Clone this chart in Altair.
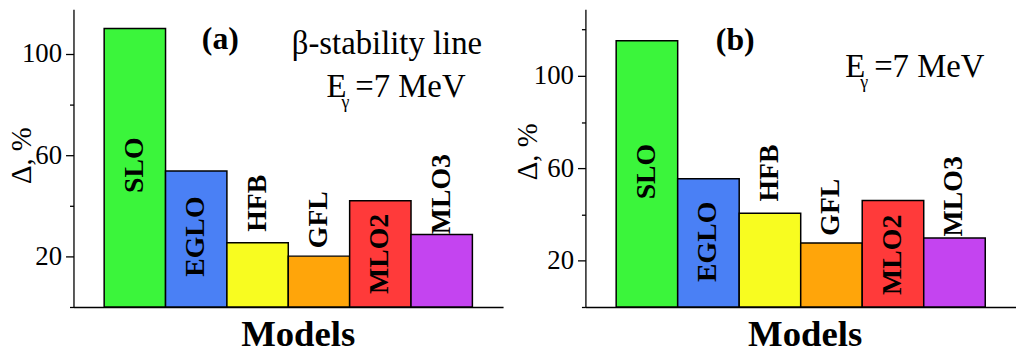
import altair as alt
import pandas as pd

# ---- data ----
models = ["SLO", "EGLO", "HFB", "GFL", "MLO2", "MLO3"]
delta_a = [110.0, 53.7, 25.4, 20.1, 42.0, 28.6]
delta_b = [115.2, 55.5, 40.6, 27.7, 46.1, 29.9]
# data-space centres of the rotated model labels
label_a = [56.0, 27.8, 41.0, 34.5, 21.0, 44.6]
label_b = [58.6, 28.2, 58.0, 43.2, 22.6, 47.9]
bar_colors = ["#3BF53B", "#4A80F5", "#F8FC20", "#FFA50A", "#FF3A3A", "#C444F0"]
y_ticks = [0, 20, 40, 60, 80, 100, 120]

FONT = "Liberation Serif"


def text_layer(txt, x, y, size, weight=400, align="left", baseline="alphabetic"):
    return alt.Chart(pd.DataFrame({"t": [txt]})).mark_text(
        font=FONT, fontSize=size, fontWeight=weight, align=align,
        baseline=baseline, color="black"
    ).encode(text="t:N", x=alt.value(x), y=alt.value(y))


def panel(values, labpos, ymax, width, height, title_x, ytitle_x, ytitle_y, annotations):
    df = pd.DataFrame({"model": models, "delta": values, "lab": labpos, "color": bar_colors})
    xenc = alt.X(
        "model:N", sort=models,
        scale=alt.Scale(paddingInner=0, paddingOuter=0.5),
        axis=alt.Axis(
            title="Models", labels=False, ticks=False, domainColor="black", domainWidth=1.3,
            titleFont=FONT, titleFontSize=37, titleFontWeight="bold", titleColor="black",
            titleX=title_x, titleY=39, titleAlign="center", titleBaseline="alphabetic",
        ),
    )
    yenc = alt.Y(
        "delta:Q",
        scale=alt.Scale(domain=[0, ymax], nice=False, zero=True),
        axis=alt.Axis(
            values=y_ticks,
            labelExpr="datum.value % 40 == 20 ? datum.label : ''",
            tickSize={"condition": {"test": "datum.value % 40 == 20", "value": 8}, "value": 4},
            labelPadding=4, labelFont=FONT, labelFontSize=27, labelColor="black",
            labelFontWeight=400,
            domainColor="black", tickColor="black", domainWidth=1.3, tickWidth=1.3, grid=False,
            title="Δ, %", titleFont=FONT, titleFontSize=29, titleFontWeight=400,
            titleColor="black", titleAngle=270, titleX=ytitle_x, titleY=ytitle_y,
            titleAlign="center", titleBaseline="middle",
        ),
    )
    base = alt.Chart(df)
    bars = base.mark_bar(stroke="black", strokeWidth=1.5).encode(
        x=xenc, y=yenc, color=alt.Color("color:N", scale=None)
    )
    labels = base.mark_text(
        angle=270, font=FONT, fontSize=28, fontWeight="bold", color="black",
        align="center", baseline="middle"
    ).encode(x=alt.X("model:N", sort=models), y=alt.Y("lab:Q"), text="model:N")
    return alt.layer(bars, labels, *annotations).properties(width=width, height=height)


ann_a = [
    text_layer("(a)", 148, 40, 32, weight="bold", align="center"),
    text_layer("β-stability line", 220, 45, 33),
    text_layer("E", 255, 88, 33),
    text_layer("γ", 274, 99, 18, align="center"),
    text_layer("=7 MeV", 284, 88, 33),
]
ann_b = [
    text_layer("(b)", 151, 41, 32, weight="bold", align="center"),
    text_layer("E", 262, 68, 33),
    text_layer("γ", 281, 79, 18, align="center"),
    text_layer("=7 MeV", 291, 68, 33),
]

pa = panel(delta_a, label_a, 117.6, 433, 300, 226, -52, 147, ann_a)
pb = panel(delta_b, label_b, 128.8, 434, 300, 221, -58, 143, ann_b)

chart = alt.hconcat(pa, pb, spacing=83, bounds="flush").properties(
    padding={"left": 0, "top": 0, "right": 0, "bottom": 0}
).configure_view(stroke=None)

chart.save("out.html", embed_options={"renderer": "svg", "actions": False})
